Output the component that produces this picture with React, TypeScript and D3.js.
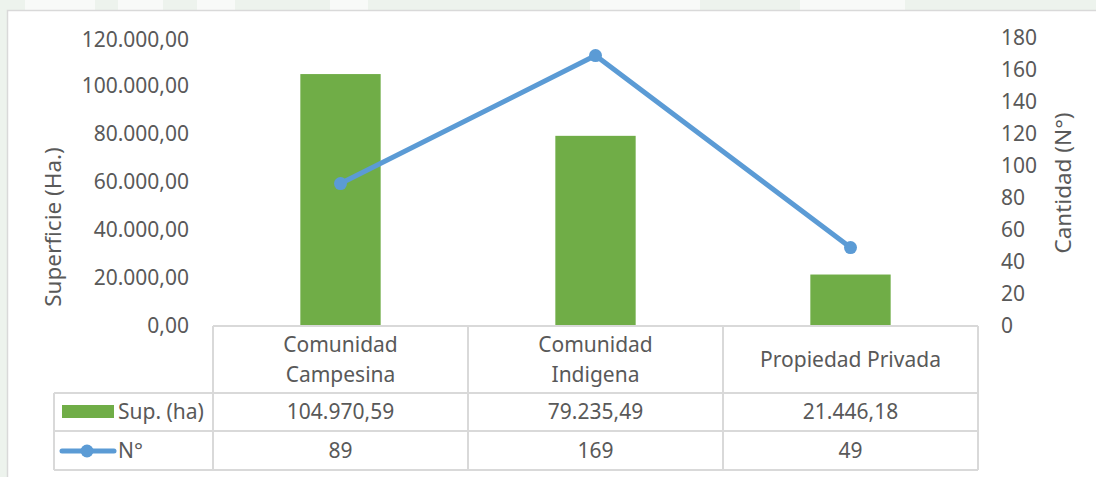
import { useEffect, useRef } from 'react';
import * as d3 from 'd3';

const categories = ['Comunidad Campesina', 'Comunidad Indigena', 'Propiedad Privada'];
const categoryLines = [['Comunidad', 'Campesina'], ['Comunidad', 'Indigena'], ['Propiedad Privada']];
const superficie = [104970.59, 79235.49, 21446.18];
const cantidad = [89, 169, 49];
const leftTicks = [0, 20000, 40000, 60000, 80000, 100000, 120000];
const rightTicks = [0, 20, 40, 60, 80, 100, 120, 140, 160, 180];

const width = 1096;
const height = 477;
const font = '"Noto Sans", sans-serif';
const textColor = '#595959';
const gridColor = '#d9d9d9';
const barColor = '#70ad47';
const lineColor = '#5b9bd5';
const labelSize = '21px';
const titleSize = '22.5px';

const locale = d3.formatLocale({ decimal: ',', thousands: '.', grouping: [3], currency: ['', ''] });
const fmt2 = locale.format(',.2f');

const App = () => {
  const ref = useRef<SVGSVGElement>(null!);

  useEffect(() => {
    const svg = d3.select(ref.current);
    svg.selectAll('*').remove();

    // page background + watermark strip
    svg.append('rect').attr('width', width).attr('height', height).attr('fill', '#edf3ed');
    const wm = [
      [25, 95],
      [118, 163],
      [197, 235],
      [330, 368],
      [590, 700],
      [800, 905],
    ];
    svg
      .selectAll('rect.wm')
      .data(wm)
      .enter()
      .append('rect')
      .attr('class', 'wm')
      .attr('x', d => d[0])
      .attr('y', 0)
      .attr('width', d => d[1] - d[0])
      .attr('height', 10)
      .attr('fill', '#f8faf8');

    // chart area
    svg
      .append('rect')
      .attr('x', 7.5)
      .attr('y', 10.5)
      .attr('width', width + 10)
      .attr('height', height + 10)
      .attr('fill', '#fff')
      .attr('stroke', gridColor)
      .attr('stroke-width', 1.5);

    const x = d3.scaleBand<string>().domain(categories).range([213, 978]);
    const yL = d3.scaleLinear().domain([0, 120000]).range([326, 38]);
    const yR = d3.scaleLinear().domain([0, 180]).range([326, 38]);
    const barW = x.bandwidth() * 0.315;
    const cx = (c: string) => x(c)! + x.bandwidth() / 2;

    // bars
    svg
      .selectAll('rect.bar')
      .data(superficie)
      .enter()
      .append('rect')
      .attr('class', 'bar')
      .attr('x', (_, i) => cx(categories[i]) - barW / 2)
      .attr('y', d => yL(d))
      .attr('width', barW)
      .attr('height', d => yL(0) - yL(d))
      .attr('fill', barColor);

    // line
    const line = d3
      .line<number>()
      .x((_, i) => cx(categories[i]))
      .y(d => yR(d));
    svg
      .append('path')
      .datum(cantidad)
      .attr('d', line)
      .attr('fill', 'none')
      .attr('stroke', lineColor)
      .attr('stroke-width', 5)
      .attr('stroke-linejoin', 'round');
    svg
      .selectAll('circle.pt')
      .data(cantidad)
      .enter()
      .append('circle')
      .attr('class', 'pt')
      .attr('cx', (_, i) => cx(categories[i]))
      .attr('cy', d => yR(d))
      .attr('r', 6.5)
      .attr('fill', lineColor);

    // axis tick labels
    svg
      .selectAll('text.yl')
      .data(leftTicks)
      .enter()
      .append('text')
      .attr('class', 'yl')
      .attr('x', 189)
      .attr('y', d => yL(d) + (d === 120000 ? 2 : 0))
      .attr('dy', '0.35em')
      .attr('text-anchor', 'end')
      .style('font-family', font)
      .style('font-size', labelSize)
      .attr('fill', textColor)
      .text(d => fmt2(d));

    svg
      .selectAll('text.yr')
      .data(rightTicks)
      .enter()
      .append('text')
      .attr('class', 'yr')
      .attr('x', 1001)
      .attr('y', d => yR(d))
      .attr('dy', '0.35em')
      .attr('text-anchor', 'start')
      .style('font-family', font)
      .style('font-size', labelSize)
      .attr('fill', textColor)
      .text(d => String(d));

    // axis titles
    svg
      .append('text')
      .attr('transform', 'translate(53,227) rotate(-90)')
      .attr('text-anchor', 'middle')
      .attr('dy', '0.35em')
      .style('font-family', font)
      .style('font-size', titleSize)
      .attr('fill', textColor)
      .text('Superficie (Ha.)');
    svg
      .append('text')
      .attr('transform', 'translate(1063,183) rotate(-90)')
      .attr('text-anchor', 'middle')
      .attr('dy', '0.35em')
      .style('font-family', font)
      .style('font-size', titleSize)
      .attr('fill', textColor)
      .text('Cantidad (N°)');

    // data table
    const rows = [326, 393, 431, 470];
    const g = svg.append('g').attr('stroke', gridColor).attr('stroke-width', 2);
    g.append('line').attr('x1', 213).attr('x2', 978).attr('y1', rows[0]).attr('y2', rows[0]);
    rows.slice(1).forEach(r => {
      g.append('line').attr('x1', 54).attr('x2', 978).attr('y1', r).attr('y2', r);
    });
    [213, ...categories.map(c => x(c)! + x.bandwidth())].forEach(v => {
      g.append('line').attr('x1', v).attr('x2', v).attr('y1', rows[0]).attr('y2', rows[3]);
    });
    g.append('line').attr('x1', 54).attr('x2', 54).attr('y1', rows[1]).attr('y2', rows[3]);

    const cellText = (tx: number, ty: number, t: string, anchor = 'middle') =>
      svg
        .append('text')
        .attr('x', tx)
        .attr('y', ty)
        .attr('dy', '0.35em')
        .attr('text-anchor', anchor)
        .style('font-family', font)
        .style('font-size', labelSize)
        .attr('fill', textColor)
        .text(t);

    categories.forEach((c, i) => {
      const lines = categoryLines[i];
      const mid = (rows[0] + rows[1]) / 2;
      lines.forEach((l, j) => {
        cellText(cx(c), mid + (j - (lines.length - 1) / 2) * 30, l);
      });
      cellText(cx(c), (rows[1] + rows[2]) / 2, fmt2(superficie[i]));
      cellText(cx(c), (rows[2] + rows[3]) / 2, String(cantidad[i]));
    });

    // legend keys
    svg.append('rect').attr('x', 62).attr('y', 405).attr('width', 52).attr('height', 13).attr('fill', barColor);
    cellText(118, (rows[1] + rows[2]) / 2, 'Sup. (ha)', 'start');
    svg
      .append('line')
      .attr('x1', 62)
      .attr('x2', 114)
      .attr('y1', 451)
      .attr('y2', 451)
      .attr('stroke', lineColor)
      .attr('stroke-width', 5)
      .attr('stroke-linecap', 'round');
    svg.append('circle').attr('cx', 87).attr('cy', 451).attr('r', 6.5).attr('fill', lineColor);
    cellText(118, (rows[2] + rows[3]) / 2, 'N°', 'start');
  }, []);

  return (
    <svg
      ref={ref}
      width={width}
      height={height}
      style={{ position: 'absolute', left: 0, top: 0, display: 'block' }}
    ></svg>
  );
};

export default App;
